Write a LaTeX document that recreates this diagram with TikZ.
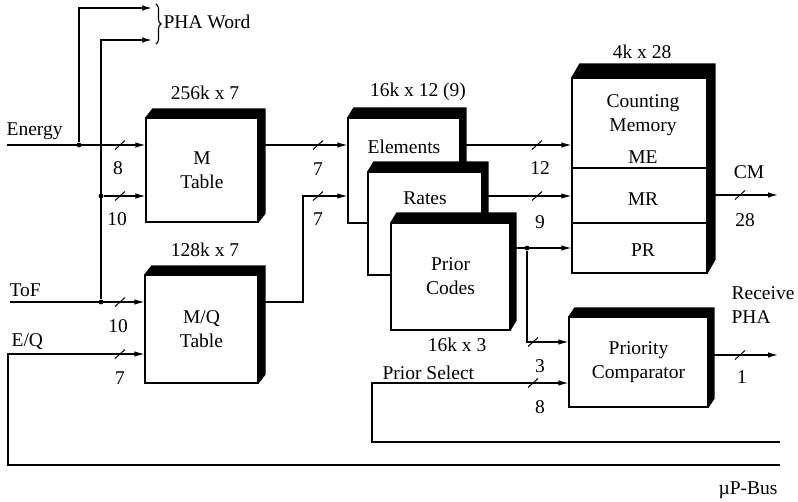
\documentclass[tikz,border=0pt]{standalone}
\usepackage{fontspec}
\setmainfont{Liberation Serif}
\usetikzlibrary{arrows.meta, positioning, calc, decorations.pathreplacing}
% black top/right face of a memory block
\newcommand{\boxshade}[3]{%
  \fill (#1.north west) -- ++(#2,#3) -- ($(#1.north east)+(#2,#3)$)
    -- ($(#1.south east)+(#2,#3)$) -- (#1.south east) -- (#1.north east) -- cycle;}

\begin{document}
\begin{tikzpicture}[x=1pt, y=-1pt, >={Latex[length=10pt,width=5.5pt]}, line width=1.2pt,
  font=\fontsize{19.5}{24}\selectfont,
  blk/.style={draw, fill=white, inner sep=0pt, align=center},
  dot/.style={circle, fill, inner sep=1.7pt},
  lbl/.style={inner sep=1pt, align=center},
  pics/wbus/.style={code={\draw[line width=1pt] (-5pt,-4.5pt) -- (5pt,4.5pt);}}]
  \useasboundingbox (0,0) rectangle (798,501);

  % memory blocks
  \node[blk, minimum width=112pt, minimum height=104pt] (MT) at (202,170) {M\\Table};
  \boxshade{MT}{7pt}{9pt}
  \node[blk, minimum width=113pt, minimum height=108pt] (MQ) at (201.5,329) {M/Q\\Table};
  \boxshade{MQ}{7pt}{9pt}
  \node[blk, minimum width=112pt, minimum height=105pt] (EL) at (404,170.5) {};
  \boxshade{EL}{6pt}{10pt}
  \node[blk, minimum width=114pt, minimum height=103pt] (RA) at (425,223.5) {};
  \boxshade{RA}{6pt}{10pt}
  \node[blk, minimum width=119pt, minimum height=107pt] (PC) at (450.5,276.5) {Prior\\Codes};
  \boxshade{PC}{6pt}{10pt}
  \node[blk, minimum width=135pt, minimum height=195pt] (CM) at (639.5,175.5) {};
  \boxshade{CM}{8pt}{14pt}
  \node[blk, minimum width=139pt, minimum height=90pt] (PQ) at (638.5,362) {Priority\\Comparator};
  \boxshade{PQ}{6pt}{9pt}

  \node[lbl] (ELt) at (404,147) {Elements};
  \node[lbl] (RAt) at (425,198) {Rates};
  \node[lbl] (CMt) at (643,115) {Counting\\Memory};
  \node[lbl] (ME) at (643,157) {ME};
  \node[lbl] (MR) at (643,199) {MR};
  \node[lbl] (PR) at (643,250) {PR};
  \draw (CM.west |- 0,168) -- (CM.east |- 0,168);
  \draw (CM.west |- 0,223) -- (CM.east |- 0,223);

  % sizes
  \node[lbl] (MTsz) at (205,93) {256k x 7};
  \node[lbl] (MQsz) at (205,250) {128k x 7};
  \node[lbl] (ELsz) at (418,92) {16k x 12 (9)};
  \node[lbl] (PCsz) at (457,345) {16k x 3};
  \node[lbl] (CMsz) at (642,52) {4k x 28};

  % inputs
  \coordinate (enin) at (7,145);
  \coordinate (tofin) at (10,302);
  \coordinate (eq) at (8,354);
  \coordinate (bus) at (780,465);
  \coordinate (sel) at (780,442);
  \coordinate (pha1) at (152,8);
  \coordinate (pha2) at (152,40);
  \node[lbl, anchor=south west] (Etx) at (5,141) {Energy};
  \node[lbl, anchor=south west] (Ttx) at (8,298) {ToF};
  \node[lbl, anchor=south west] (Qtx) at (10,351) {E/Q};
  \node[dot] (j1) at (79,145) {};
  \node[dot] (j2) at (101,196) {};
  \node[dot] (j3) at (101,302) {};
  \node[dot] (j4) at (527,248) {};

  \draw[->] (enin) -- (MT.west |- enin);
  \draw[->] (j1) |- (pha1);
  \draw[->] (j3) |- (pha2);
  \draw[->] (j2) -- (MT.west |- j2);
  \draw[->] (tofin) -- (MQ.west |- tofin);
  \draw[->] (bus) -| (eq) -- (MQ.west |- eq);
  \draw[decorate, decoration={brace, amplitude=5pt}, line width=1.1pt] (156,4) -- (156,44);
  \node[lbl, anchor=west] (PHA) at (162,22) {PHA Word};
  \pic at (120,145) {wbus};
  \pic at (120,196) {wbus};
  \pic at (120,302) {wbus};
  \pic at (120,354) {wbus};
  \node[lbl] (w1) at (118,168) {8};
  \node[lbl] (w2) at (117,219) {10};
  \node[lbl] (w3) at (118,326) {10};
  \node[lbl] (w4) at (120,378) {7};

  % tables to the code memories
  \coordinate (mqturn) at (303,196);
  \draw[->] (MT.east |- enin) -- (EL.west |- enin);
  \draw[->] (MQ.east |- tofin) -| (mqturn) -- (EL.west |- mqturn);
  \pic at (318,145) {wbus};
  \pic at (318,196) {wbus};
  \node[lbl] (w5) at (318,169) {7};
  \node[lbl] (w6) at (318,219) {7};

  % code memories to counting memory
  \draw[->] (EL.east |- enin) -- (CM.west |- enin);
  \draw[->] (RA.east |- mqturn) -- (CM.west |- mqturn);
  \draw[->] (PC.east |- j4) -- (CM.west |- j4);
  \pic at (537,145) {wbus};
  \pic at (537,196) {wbus};
  \node[lbl] (w7) at (540,168) {12};
  \node[lbl] (w8) at (540,222) {9};

  % priority comparator
  \draw[->] (j4) |- (PQ.west |- 0,342);
  \draw[->] (sel) -| (372,383) -- (PQ.west |- 0,383);
  \node[lbl, anchor=south west] (PStx) at (381,381) {Prior Select};
  \pic at (533,342) {wbus};
  \pic at (533,383) {wbus};
  \node[lbl] (w9) at (540,366) {3};
  \node[lbl] (w10) at (540,407) {8};

  % outputs
  \coordinate (cmout) at (778,195);
  \coordinate (rcvout) at (778,355);
  \draw[->] (CM.east |- cmout) -- (cmout);
  \draw[->] (PQ.east |- rcvout) -- (rcvout);
  \pic at (740,195) {wbus};
  \pic at (740,355) {wbus};
  \node[lbl] (CMo) at (749,172) {CM};
  \node[lbl] (w11) at (745,220) {28};
  \node[lbl] (w12) at (742,377) {1};
  \node[lbl, anchor=west, align=left] (RCV) at (730,305) {Receive\\PHA};
  \node[lbl] (BUS) at (748,490) {µP-Bus};
\end{tikzpicture}
\end{document}
